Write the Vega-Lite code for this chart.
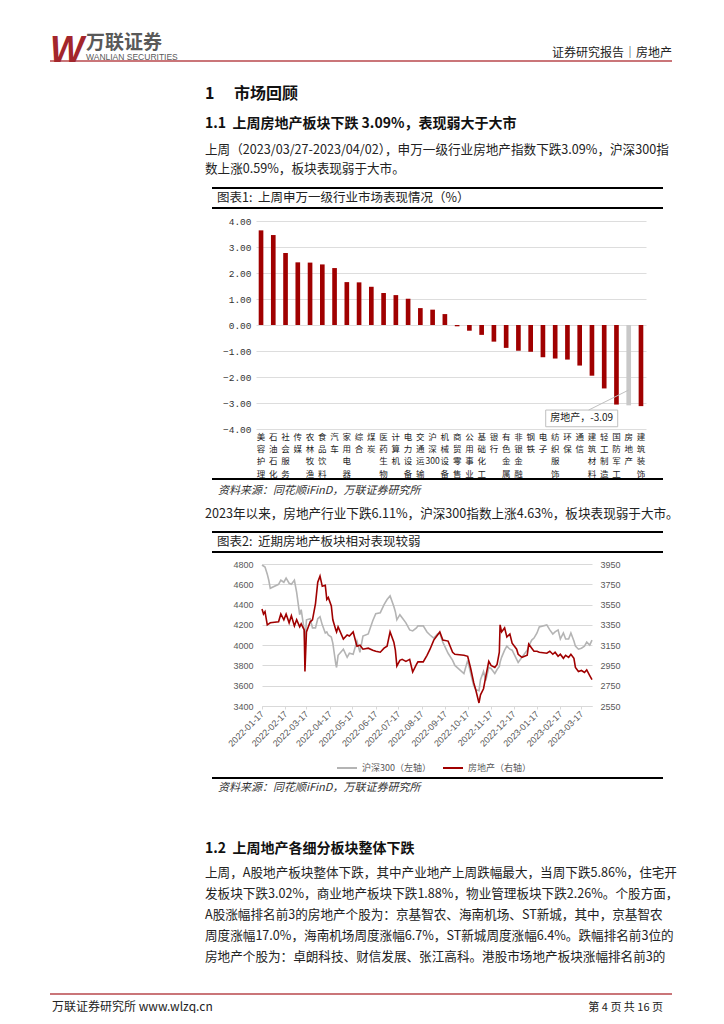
{
"$schema": "https://vega.github.io/schema/vega-lite/v6.json",
"padding": 0,
"background": "#ffffff",
"columns": 1,
"spacing": 0,
"bounds": "full",
"align": "none",
"resolve": {"scale": {"color": "independent"}, "legend": {"color": "independent"}},
"config": {"view": {"stroke": null}, "font": "Noto Sans CJK SC", "text": {"font": "Noto Sans CJK SC"}},
"datasets": {
"industry": [
{"name":"美容护理","value":3.64},{"name":"石油石化","value":3.46},{"name":"社会服务","value":2.77},{"name":"传媒","value":2.41},
{"name":"农林牧渔","value":2.40},{"name":"食品饮料","value":2.33},{"name":"汽车","value":2.19},{"name":"家用电器","value":1.65},
{"name":"综合","value":1.64},{"name":"煤炭","value":1.47},{"name":"医药生物","value":1.23},{"name":"计算机","value":1.15},
{"name":"电力设备","value":1.01},{"name":"交通运输","value":0.65},{"name":"沪深300","value":0.59},{"name":"机械设备","value":0.42},
{"name":"商贸零售","value":-0.05},{"name":"公用事业","value":-0.22},{"name":"基础化工","value":-0.38},{"name":"银行","value":-0.64},
{"name":"有色金属","value":-0.88},{"name":"非银金融","value":-0.99},{"name":"钢铁","value":-1.03},{"name":"电子","value":-1.24},
{"name":"纺织服饰","value":-1.29},{"name":"环保","value":-1.33},{"name":"通信","value":-1.56},{"name":"建筑材料","value":-1.95},
{"name":"轻工制造","value":-2.44},{"name":"国防军工","value":-3.06},{"name":"房地产","value":-3.09},{"name":"建筑装饰","value":-3.12}
],
"note": [{"name":"房地产","value":-3.09,"label":"房地产，-3.09"}],
"trend": [
{"d":"2022-01-17","hs":4790,"fdc":3506},{"d":"2022-01-19","hs":4780,"fdc":3457},{"d":"2022-01-21","hs":4770,"fdc":3480},{"d":"2022-01-24","hs":4700,"fdc":3350},
{"d":"2022-01-26","hs":4640,"fdc":3360},{"d":"2022-01-28","hs":4560,"fdc":3370},{"d":"2022-02-08","hs":4600,"fdc":3380},{"d":"2022-02-11","hs":4640,"fdc":3457},
{"d":"2022-02-15","hs":4620,"fdc":3400},{"d":"2022-02-18","hs":4660,"fdc":3457},{"d":"2022-02-22","hs":4610,"fdc":3370},{"d":"2022-02-25","hs":4600,"fdc":3440},
{"d":"2022-03-01","hs":4640,"fdc":3340},{"d":"2022-03-04","hs":4520,"fdc":3400},{"d":"2022-03-08","hs":4300,"fdc":3330},{"d":"2022-03-10","hs":4350,"fdc":3360},
{"d":"2022-03-14","hs":4150,"fdc":3300},{"d":"2022-03-15","hs":4010,"fdc":2890},{"d":"2022-03-17","hs":4250,"fdc":3280},{"d":"2022-03-22","hs":4260,"fdc":3380},
{"d":"2022-03-25","hs":4170,"fdc":3400},{"d":"2022-03-29","hs":4170,"fdc":3560},{"d":"2022-04-01","hs":4260,"fdc":3770},{"d":"2022-04-04","hs":4280,"fdc":3830},
{"d":"2022-04-07","hs":4200,"fdc":3730},{"d":"2022-04-11","hs":4120,"fdc":3740},{"d":"2022-04-13","hs":4130,"fdc":3600},{"d":"2022-04-15","hs":4100,"fdc":3620},
{"d":"2022-04-19","hs":4080,"fdc":3536},{"d":"2022-04-21","hs":4020,"fdc":3400},{"d":"2022-04-25","hs":3810,"fdc":3300},{"d":"2022-04-26","hs":3780,"fdc":3280},
{"d":"2022-04-28","hs":3900,"fdc":3330},{"d":"2022-05-05","hs":3960,"fdc":3210},{"d":"2022-05-10","hs":3880,"fdc":3250},{"d":"2022-05-13","hs":3920,"fdc":3240},
{"d":"2022-05-18","hs":3910,"fdc":3280},{"d":"2022-05-23","hs":4040,"fdc":3140},{"d":"2022-05-27","hs":3930,"fdc":3150},{"d":"2022-05-31","hs":4090,"fdc":3110},
{"d":"2022-06-07","hs":4110,"fdc":3120},{"d":"2022-06-13","hs":4240,"fdc":3100},{"d":"2022-06-17","hs":4310,"fdc":3090},{"d":"2022-06-23","hs":4320,"fdc":3080},
{"d":"2022-06-28","hs":4400,"fdc":3120},{"d":"2022-07-02","hs":4450,"fdc":3140},{"d":"2022-07-06","hs":4485,"fdc":3280},{"d":"2022-07-11","hs":4380,"fdc":3180},
{"d":"2022-07-13","hs":4330,"fdc":3100},{"d":"2022-07-15","hs":4250,"fdc":2945},{"d":"2022-07-19","hs":4300,"fdc":3000},{"d":"2022-07-22","hs":4270,"fdc":3010},
{"d":"2022-07-27","hs":4220,"fdc":2990},{"d":"2022-08-01","hs":4150,"fdc":3010},{"d":"2022-08-05","hs":4140,"fdc":2885},{"d":"2022-08-10","hs":4170,"fdc":2960},
{"d":"2022-08-12","hs":4190,"fdc":2985},{"d":"2022-08-19","hs":4190,"fdc":2985},{"d":"2022-08-24","hs":4130,"fdc":3050},{"d":"2022-08-28","hs":4100,"fdc":3110},
{"d":"2022-09-02","hs":4070,"fdc":3200},{"d":"2022-09-07","hs":4110,"fdc":3250},{"d":"2022-09-10","hs":4120,"fdc":3280},{"d":"2022-09-14","hs":4030,"fdc":3200},
{"d":"2022-09-21","hs":3920,"fdc":3190},{"d":"2022-09-27","hs":3850,"fdc":3080},{"d":"2022-09-30","hs":3800,"fdc":3060},{"d":"2022-10-12","hs":3720,"fdc":3050},
{"d":"2022-10-17","hs":3850,"fdc":3040},{"d":"2022-10-21","hs":3720,"fdc":2920},{"d":"2022-10-25","hs":3600,"fdc":2780},{"d":"2022-10-28","hs":3560,"fdc":2700},
{"d":"2022-11-01","hs":3550,"fdc":2580},{"d":"2022-11-03","hs":3660,"fdc":2660},{"d":"2022-11-07","hs":3740,"fdc":2720},{"d":"2022-11-10","hs":3650,"fdc":2840},
{"d":"2022-11-14","hs":3780,"fdc":2990},{"d":"2022-11-17","hs":3770,"fdc":2950},{"d":"2022-11-22","hs":3720,"fdc":2930},{"d":"2022-11-25","hs":3760,"fdc":2960},
{"d":"2022-11-28","hs":3790,"fdc":3080},{"d":"2022-11-29","hs":3830,"fdc":3350},{"d":"2022-12-01","hs":3880,"fdc":3280},{"d":"2022-12-05","hs":3950,"fdc":3320},
{"d":"2022-12-08","hs":3990,"fdc":3230},{"d":"2022-12-12","hs":3960,"fdc":3260},{"d":"2022-12-15","hs":3950,"fdc":3170},{"d":"2022-12-21","hs":3860,"fdc":3110},
{"d":"2022-12-23","hs":3830,"fdc":3060},{"d":"2022-12-28","hs":3880,"fdc":3030},{"d":"2023-01-04","hs":3950,"fdc":3050},{"d":"2023-01-06","hs":3990,"fdc":3160},
{"d":"2023-01-10","hs":4050,"fdc":3120},{"d":"2023-01-13","hs":4070,"fdc":3090},{"d":"2023-01-17","hs":4120,"fdc":3090},{"d":"2023-01-20","hs":4180,"fdc":3080},
{"d":"2023-01-30","hs":4200,"fdc":3070},{"d":"2023-02-03","hs":4150,"fdc":3090},{"d":"2023-02-07","hs":4110,"fdc":3060},{"d":"2023-02-10","hs":4130,"fdc":3080},
{"d":"2023-02-14","hs":4150,"fdc":3040},{"d":"2023-02-17","hs":4060,"fdc":3060},{"d":"2023-02-21","hs":4120,"fdc":3020},{"d":"2023-02-24","hs":4060,"fdc":3050},
{"d":"2023-02-28","hs":4060,"fdc":3030},{"d":"2023-03-03","hs":4120,"fdc":3060},{"d":"2023-03-07","hs":4040,"fdc":3020},{"d":"2023-03-09","hs":3990,"fdc":2930},
{"d":"2023-03-13","hs":3960,"fdc":2890},{"d":"2023-03-17","hs":3970,"fdc":2900},{"d":"2023-03-21","hs":3990,"fdc":2880},{"d":"2023-03-24","hs":4030,"fdc":2905},
{"d":"2023-03-28","hs":4000,"fdc":2850},{"d":"2023-03-31","hs":4050,"fdc":2810}
]
},
"concat": [
 {"hconcat":[
  {"width":50,"height":61,"data":{"values":[]},"mark":"text","encoding":{"text":{"field":"t","type":"nominal"}}},
  {"width":622,"height":61,
   "data":{"values":[{"w":"W","cn":"万联证券","en":"WANLIAN SECURITIES","r":"证券研究报告｜房地产"}]},
   "encoding":{"x":{"datum":0,"type":"quantitative","scale":{"domain":[0,1]},"axis":null},"y":{"datum":0,"type":"quantitative","scale":{"domain":[0,1]},"axis":null}},
   "layer":[
    {"mark":{"type":"rule","color":"#b9474c","strokeWidth":1.3},"encoding":{"x2":{"datum":1}}},
    {"mark":{"type":"text","align":"left","baseline":"alphabetic","font":"Liberation Sans","fontSize":36,"fontWeight":"bold","fontStyle":"italic","color":"#a3262c","dy":1},"encoding":{"text":{"field":"w","type":"nominal"}}},
    {"mark":{"type":"text","align":"left","baseline":"alphabetic","fontSize":19,"fontWeight":"bold","color":"#595959","dx":36,"dy":-12},"encoding":{"text":{"field":"cn","type":"nominal"}}},
    {"mark":{"type":"text","align":"left","baseline":"alphabetic","font":"Liberation Sans","fontSize":8.5,"color":"#595959","dx":36,"dy":-1},"encoding":{"text":{"field":"en","type":"nominal"}}},
    {"mark":{"type":"text","align":"right","baseline":"alphabetic","fontSize":12,"color":"#222222","dy":-4},"encoding":{"text":{"field":"r","type":"nominal"},"x":{"datum":1,"type":"quantitative"}}}
   ]}
 ],"spacing":0,"bounds":"flush"},

 {"hconcat":[
  {"width":205,"height":30,"data":{"values":[]},"mark":"text","encoding":{"text":{"field":"t","type":"nominal"}}},
  {"width":467,"height":30,"data":{"values":[{"t":"1\u3000\u00a0市场回顾"}]},
   "mark":{"type":"text","align":"left","baseline":"alphabetic","fontSize":16,"fontWeight":"bold","color":"#111111"},
   "encoding":{"text":{"field":"t","type":"nominal"},"x":{"datum":0,"type":"quantitative","scale":{"domain":[0,1]},"axis":null},"y":{"datum":0,"type":"quantitative","scale":{"domain":[0,1]},"axis":null}}}
 ],"spacing":0,"bounds":"flush"},

 {"hconcat":[
  {"width":205,"height":26,"data":{"values":[]},"mark":"text","encoding":{"text":{"field":"t","type":"nominal"}}},
  {"width":467,"height":26,"data":{"values":[{"t":"1.1\u00a0\u00a0上周房地产板块下跌 3.09%，表现弱大于大市"}]},
   "mark":{"type":"text","align":"left","baseline":"alphabetic","fontSize":14,"fontWeight":"bold","color":"#111111"},
   "encoding":{"text":{"field":"t","type":"nominal"},"x":{"datum":0,"type":"quantitative","scale":{"domain":[0,1]},"axis":null},"y":{"datum":0,"type":"quantitative","scale":{"domain":[0,1]},"axis":null}}}
 ],"spacing":0,"bounds":"flush"},

 {"hconcat":[
  {"width":205,"height":23,"data":{"values":[]},"mark":"text","encoding":{"text":{"field":"t","type":"nominal"}}},
  {"width":467,"height":23,"data":{"values":[{"t":["上周（2023/03/27-2023/04/02），申万一级行业房地产指数下跌3.09%，沪深300指","数上涨0.59%，板块表现弱于大市。"]}]},
   "mark":{"type":"text","align":"left","baseline":"alphabetic","fontSize":12.6,"lineHeight":19,"color":"#222222"},
   "encoding":{"text":{"field":"t","type":"nominal"},"x":{"datum":0,"type":"quantitative","scale":{"domain":[0,1]},"axis":null},"y":{"datum":0,"type":"quantitative","scale":{"domain":[0,1]},"axis":null}}}
 ],"spacing":0,"bounds":"flush"},

 {"width":1,"height":11,"data":{"values":[]},"mark":"text","encoding":{"text":{"field":"t","type":"nominal"}}},

 {"hconcat":[
  {"width":212,"height":20,"data":{"values":[]},"mark":"text","encoding":{"text":{"field":"t","type":"nominal"}}},
  {"width":451,"height":20,"data":{"values":[{"t":"图表1:\u00a0 上周申万一级行业市场表现情况（%）"}]},
   "encoding":{"x":{"datum":0,"type":"quantitative","scale":{"domain":[0,1]},"axis":null},"y":{"datum":0,"type":"quantitative","scale":{"domain":[0,1]},"axis":null}},
   "layer":[
    {"mark":{"type":"rule","color":"#000000","strokeWidth":2},"encoding":{"x2":{"datum":1},"y":{"datum":1,"type":"quantitative"}}},
    {"mark":{"type":"rule","color":"#000000","strokeWidth":2},"encoding":{"x2":{"datum":1}}},
    {"mark":{"type":"text","align":"left","baseline":"alphabetic","fontSize":12.5,"color":"#222222","dx":5,"dy":-6},"encoding":{"text":{"field":"t","type":"nominal"}}}
   ]}
 ],"spacing":0,"bounds":"flush"},

 {"width":1,"height":7,"data":{"values":[]},"mark":"text","encoding":{"text":{"field":"t","type":"nominal"}}},

 {"hconcat":[
  {"width":256,"height":208,"data":{"values":[]},"mark":"text","encoding":{"text":{"field":"t","type":"nominal"}}},
  {"width":390,"height":208,
   "encoding":{
    "x":{"field":"name","type":"nominal","sort":null,"scale":{"paddingInner":0.62,"paddingOuter":0.22},
     "axis":{"title":null,"labelAngle":0,"labelExpr":"datum.label === '沪深300' ? ['沪','深','300'] : split(datum.label, '')","labelFont":"Noto Sans CJK SC","labelFontSize":8.5,"labelLineHeight":12.4,"labelColor":"#222222","labelBaseline":"top","labelPadding":3,"domain":false,"ticks":false,"labelOverlap":false}},
    "y":{"field":"value","type":"quantitative","scale":{"domain":[-4,4],"nice":false},
     "axis":{"title":null,"values":[-4,-3,-2,-1,0,1,2,3,4],"format":".2f","labelFont":"Liberation Mono","labelFontSize":9.5,"labelColor":"#333333","labelPadding":5,"labelOverlap":false,"labelSeparation":0,"domain":false,"ticks":false,"grid":true,"gridColor":"#dddddd","gridWidth":1.2}}
   },
   "layer":[
    {"data":{"name":"industry"},
     "mark":{"type":"bar"},
     "encoding":{"color":{"condition":{"test":"datum.name === '房地产'","value":"#c8c8c8"},"value":"#a00000"}}},
    {"data":{"name":"note"},
     "mark":{"type":"point","shape":"M0,-0.383L-1,0.1175M-2.075,0.1175H-0.275V0.535H-2.075Z","size":6400,"filled":true,"fill":"#ffffff","stroke":"#bfbfbf","strokeWidth":1,"opacity":1}},
    {"data":{"name":"note"},
     "mark":{"type":"text","align":"center","baseline":"middle","fontSize":10,"color":"#222222","dx":-47,"dy":13},
     "encoding":{"text":{"field":"label","type":"nominal"}}}
   ]}
 ],"spacing":0,"bounds":"flush"},

 {"hconcat":[
  {"width":212,"height":15,"data":{"values":[]},"mark":"text","encoding":{"text":{"field":"t","type":"nominal"}}},
  {"width":451,"height":15,"data":{"values":[{"t":"资料来源：同花顺iFinD，万联证券研究所"}]},
   "encoding":{"x":{"datum":0,"type":"quantitative","scale":{"domain":[0,1]},"axis":null},"y":{"datum":0,"type":"quantitative","scale":{"domain":[0,1]},"axis":null}},
   "layer":[
    {"mark":{"type":"rule","color":"#000000","strokeWidth":2},"encoding":{"x2":{"datum":1},"y":{"datum":1,"type":"quantitative"}}},
    {"mark":{"type":"text","align":"left","baseline":"alphabetic","fontSize":11,"fontStyle":"italic","color":"#333333","dx":6},"encoding":{"text":{"field":"t","type":"nominal"}}}
   ]}
 ],"spacing":0,"bounds":"flush"},

 {"hconcat":[
  {"width":205,"height":22,"data":{"values":[]},"mark":"text","encoding":{"text":{"field":"t","type":"nominal"}}},
  {"width":467,"height":22,"data":{"values":[{"t":"2023年以来，房地产行业下跌6.11%，沪深300指数上涨4.63%，板块表现弱于大市。"}]},
   "mark":{"type":"text","align":"left","baseline":"alphabetic","fontSize":12.6,"color":"#222222"},
   "encoding":{"text":{"field":"t","type":"nominal"},"x":{"datum":0,"type":"quantitative","scale":{"domain":[0,1]},"axis":null},"y":{"datum":0,"type":"quantitative","scale":{"domain":[0,1]},"axis":null}}}
 ],"spacing":0,"bounds":"flush"},

 {"width":1,"height":10,"data":{"values":[]},"mark":"text","encoding":{"text":{"field":"t","type":"nominal"}}},

 {"hconcat":[
  {"width":212,"height":20,"data":{"values":[]},"mark":"text","encoding":{"text":{"field":"t","type":"nominal"}}},
  {"width":451,"height":20,"data":{"values":[{"t":"图表2:\u00a0 近期房地产板块相对表现较弱"}]},
   "encoding":{"x":{"datum":0,"type":"quantitative","scale":{"domain":[0,1]},"axis":null},"y":{"datum":0,"type":"quantitative","scale":{"domain":[0,1]},"axis":null}},
   "layer":[
    {"mark":{"type":"rule","color":"#000000","strokeWidth":2},"encoding":{"x2":{"datum":1},"y":{"datum":1,"type":"quantitative"}}},
    {"mark":{"type":"rule","color":"#000000","strokeWidth":2},"encoding":{"x2":{"datum":1}}},
    {"mark":{"type":"text","align":"left","baseline":"alphabetic","fontSize":12.5,"color":"#222222","dx":5,"dy":-6},"encoding":{"text":{"field":"t","type":"nominal"}}}
   ]}
 ],"spacing":0,"bounds":"flush"},

 {"width":1,"height":7,"data":{"values":[]},"mark":"text","encoding":{"text":{"field":"t","type":"nominal"}}},

 {"hconcat":[
  {"width":262,"height":142,"data":{"values":[]},"mark":"text","encoding":{"text":{"field":"t","type":"nominal"}}},
  {"width":330,"height":142,
   "data":{"name":"trend"},
   "encoding":{
    "x":{"field":"d","type":"temporal","scale":{"type":"utc","domain":[{"year":2022,"month":1,"date":17,"utc":true},{"year":2023,"month":3,"date":31,"utc":true}]},
     "axis":{"title":null,"format":"%Y-%m-%d","labelAngle":-45,"labelAlign":"right","labelBaseline":"middle","labelFont":"Liberation Sans","labelFontSize":9,"labelColor":"#595959","labelPadding":3,"domainColor":"#d9d9d9","tickColor":"#d9d9d9","tickSize":3,"grid":false,"labelOverlap":false,
      "values":[{"year":2022,"month":1,"date":17,"utc":true},{"year":2022,"month":2,"date":17,"utc":true},{"year":2022,"month":3,"date":17,"utc":true},{"year":2022,"month":4,"date":17,"utc":true},{"year":2022,"month":5,"date":17,"utc":true},{"year":2022,"month":6,"date":17,"utc":true},{"year":2022,"month":7,"date":17,"utc":true},{"year":2022,"month":8,"date":17,"utc":true},{"year":2022,"month":9,"date":17,"utc":true},{"year":2022,"month":10,"date":17,"utc":true},{"year":2022,"month":11,"date":17,"utc":true},{"year":2022,"month":12,"date":17,"utc":true},{"year":2023,"month":1,"date":17,"utc":true},{"year":2023,"month":2,"date":17,"utc":true},{"year":2023,"month":3,"date":17,"utc":true}]}}
   },
   "layer":[
    {"mark":{"type":"line","strokeWidth":1.6},
     "encoding":{
      "y":{"field":"hs","type":"quantitative","scale":{"domain":[3400,4800],"nice":false,"zero":false},
       "axis":{"title":null,"orient":"left","values":[3400,3600,3800,4000,4200,4400,4600,4800],"format":"d","labelFont":"Liberation Sans","labelFontSize":9,"labelColor":"#595959","labelPadding":9,"domain":false,"ticks":false,"gridColor":"#d9d9d9","gridWidth":1}},
      "color":{"datum":"沪深300（左轴）","type":"nominal","scale":{"domain":["沪深300（左轴）","房地产（右轴）"],"range":["#b4b4b4","#a00000"]},
       "legend":{"orient":"none","legendX":336,"legendY":193,"direction":"horizontal","title":null,"symbolType":"stroke","symbolStrokeWidth":2,"symbolSize":400,"labelFontSize":9,"labelColor":"#595959","labelFont":"Noto Sans CJK SC","columnPadding":8}}
     }},
    {"mark":{"type":"line","strokeWidth":1.6},
     "encoding":{
      "y":{"field":"fdc","type":"quantitative","scale":{"domain":[2550,3950],"nice":false,"zero":false},
       "axis":{"title":null,"orient":"right","values":[2550,2750,2950,3150,3350,3550,3750,3950],"format":"d","labelFont":"Liberation Sans","labelFontSize":9,"labelColor":"#595959","labelPadding":8,"domain":false,"ticks":false,"grid":false}},
      "color":{"datum":"房地产（右轴）","type":"nominal"}
     }}
   ],
   "resolve":{"scale":{"y":"independent"}}}
 ],"spacing":0,"bounds":"flush"},

 {"width":1,"height":4,"data":{"values":[]},"mark":"text","encoding":{"text":{"field":"t","type":"nominal"}}},

 {"hconcat":[
  {"width":212,"height":13,"data":{"values":[]},"mark":"text","encoding":{"text":{"field":"t","type":"nominal"}}},
  {"width":451,"height":13,"data":{"values":[{"t":"资料来源：同花顺iFinD，万联证券研究所"}]},
   "encoding":{"x":{"datum":0,"type":"quantitative","scale":{"domain":[0,1]},"axis":null},"y":{"datum":0,"type":"quantitative","scale":{"domain":[0,1]},"axis":null}},
   "layer":[
    {"mark":{"type":"rule","color":"#000000","strokeWidth":2},"encoding":{"x2":{"datum":1},"y":{"datum":1,"type":"quantitative"}}},
    {"mark":{"type":"text","align":"left","baseline":"alphabetic","fontSize":11,"fontStyle":"italic","color":"#333333","dx":6},"encoding":{"text":{"field":"t","type":"nominal"}}}
   ]}
 ],"spacing":0,"bounds":"flush"},

 {"hconcat":[
  {"width":205,"height":60,"data":{"values":[]},"mark":"text","encoding":{"text":{"field":"t","type":"nominal"}}},
  {"width":467,"height":60,"data":{"values":[{"t":"1.2\u00a0\u00a0上周地产各细分板块整体下跌"}]},
   "mark":{"type":"text","align":"left","baseline":"alphabetic","fontSize":14,"fontWeight":"bold","color":"#111111"},
   "encoding":{"text":{"field":"t","type":"nominal"},"x":{"datum":0,"type":"quantitative","scale":{"domain":[0,1]},"axis":null},"y":{"datum":0,"type":"quantitative","scale":{"domain":[0,1]},"axis":null}}}
 ],"spacing":0,"bounds":"flush"},

 {"hconcat":[
  {"width":205,"height":21,"data":{"values":[]},"mark":"text","encoding":{"text":{"field":"t","type":"nominal"}}},
  {"width":467,"height":21,"data":{"values":[{"t":["上周，A股地产板块整体下跌，其中产业地产上周跌幅最大，当周下跌5.86%，住宅开","发板块下跌3.02%，商业地产板块下跌1.88%，物业管理板块下跌2.26%。个股方面，","A股涨幅排名前3的房地产个股为：京基智农、海南机场、ST新城，其中，京基智农","周度涨幅17.0%，海南机场周度涨幅6.7%，ST新城周度涨幅6.4%。跌幅排名前3位的","房地产个股为：卓朗科技、财信发展、张江高科。港股市场地产板块涨幅排名前3的"]}]},
   "mark":{"type":"text","align":"left","baseline":"alphabetic","fontSize":12.6,"lineHeight":21,"color":"#222222"},
   "encoding":{"text":{"field":"t","type":"nominal"},"x":{"datum":0,"type":"quantitative","scale":{"domain":[0,1]},"axis":null},"y":{"datum":0,"type":"quantitative","scale":{"domain":[0,1]},"axis":null}}}
 ],"spacing":0,"bounds":"flush"},

 {"width":1,"height":29,"data":{"values":[]},"mark":"text","encoding":{"text":{"field":"t","type":"nominal"}}},

 {"hconcat":[
  {"width":50,"height":17,"data":{"values":[]},"mark":"text","encoding":{"text":{"field":"t","type":"nominal"}}},
  {"width":622,"height":17,
   "data":{"values":[{"l":"万联证券研究所 www.wlzq.cn","r":"第 4 页 共 16 页"}]},
   "encoding":{"x":{"datum":0,"type":"quantitative","scale":{"domain":[0,1]},"axis":null},"y":{"datum":0,"type":"quantitative","scale":{"domain":[0,1]},"axis":null}},
   "layer":[
    {"mark":{"type":"rule","color":"#b9474c","strokeWidth":1.3},"encoding":{"x2":{"datum":1},"y":{"datum":1,"type":"quantitative"}}},
    {"mark":{"type":"text","align":"left","baseline":"alphabetic","fontSize":12,"color":"#222222","dx":2},"encoding":{"text":{"field":"l","type":"nominal"}}},
    {"mark":{"type":"text","align":"right","baseline":"alphabetic","fontSize":11,"color":"#222222","dx":-9},"encoding":{"text":{"field":"r","type":"nominal"},"x":{"datum":1,"type":"quantitative"}}}
   ]}
 ],"spacing":0,"bounds":"flush"}
]
}
